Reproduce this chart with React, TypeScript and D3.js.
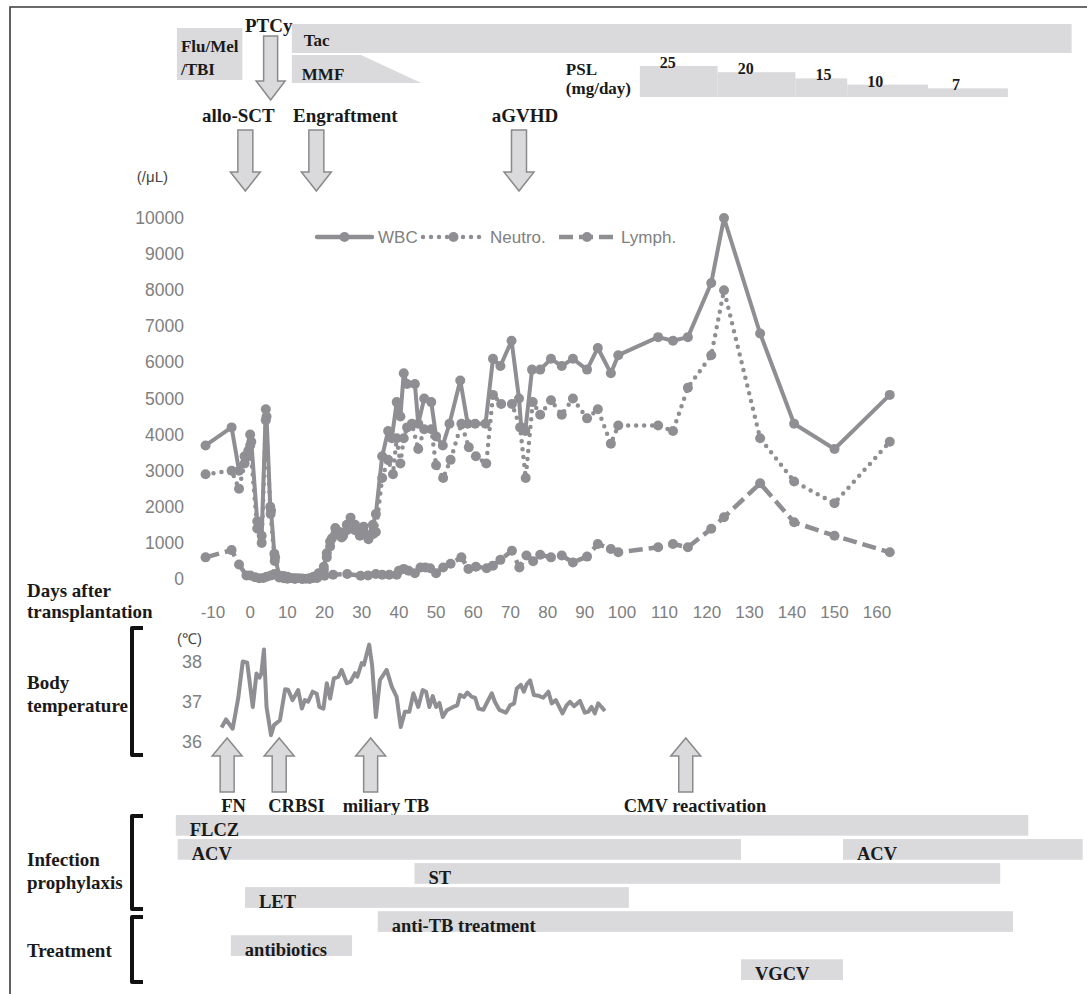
import React from "react";
import * as d3 from "d3";

// days after transplantation, cells /uL
const wbc: [number, number][] = [
  [-12, 3700], [-5, 4200], [-3, 3000], [-1.5, 3400], [-0.5, 3550], [0, 4000], [0.3, 3800],
  [1.9, 1600], [3.1, 1200], [4.2, 4700], [4.4, 4500], [5.4, 2000], [5.6, 1900], [6.5, 700],
  [6.7, 600], [7.8, 100], [9, 80], [10, 60], [11, 30], [12, 20], [13, 20], [14, 10], [15, 10],
  [16, 20], [17, 60], [18.4, 160], [19.8, 340], [20.6, 710], [21.5, 1040], [22, 1130],
  [22.9, 1410], [24, 1300], [25, 1200], [26, 1500], [27, 1700], [28.2, 1500], [29.5, 1300],
  [30.5, 1450], [31.8, 1200], [33, 1500], [33.8, 1800], [35.5, 3400], [37.1, 4100],
  [38.1, 3900], [39.4, 4900], [40.4, 4500], [41.3, 5700], [42.2, 5400], [44.3, 5400],
  [45.2, 4300], [46.8, 5000], [48.7, 4900], [50, 3950], [51.8, 3700], [53.6, 4300],
  [56.5, 5500], [58.5, 4300], [60.5, 4300], [63.3, 4300], [65.3, 6100], [67.3, 5900],
  [70.3, 6600], [72.3, 5000], [72.9, 4200], [74, 4100], [75.8, 5800], [78, 5800],
  [80.9, 6100], [83.8, 5900], [86.8, 6100], [90.6, 5800], [93.5, 6400], [97, 5700],
  [99, 6200], [108.5, 6700], [112, 6600], [115.5, 6700], [121, 8200], [124, 10000],
  [132.5, 6800], [140.5, 4300], [150, 3600], [163, 5100],
];

const neutro: [number, number][] = [
  [-12, 2900], [-5, 3000], [-3, 2500], [-1.5, 3200], [-0.5, 3400], [0, 3700], [1.9, 1400],
  [3.1, 1000], [4.2, 4400], [5.5, 1800], [6.6, 500], [7.8, 40], [9, 20], [10, 10], [12, 10],
  [14, 10], [16, 10], [17, 30], [18.4, 100], [19.8, 250], [20.6, 600], [21.5, 900],
  [22.9, 1250], [24.6, 1150], [26, 1350], [27.1, 1500], [28.2, 1350], [29.5, 1200],
  [30.5, 1300], [31.8, 1100], [33.1, 1250], [33.8, 1300], [35.5, 2800], [37.1, 3300],
  [38.4, 2900], [39.4, 3900], [40.4, 3200], [41.3, 3900], [42.2, 4200], [43.5, 4300],
  [45.2, 3600], [46.8, 4150], [48.7, 4150], [50, 3150], [51.9, 2800], [53.9, 3300],
  [56.8, 4300], [58.8, 3650], [60.7, 3400], [63.5, 3200], [65.3, 5100], [67.5, 4850],
  [70.4, 4850], [72.6, 4200], [74.1, 2800], [76, 4900], [78, 4550], [80.9, 4950],
  [83.8, 4550], [86.8, 5000], [90.6, 4450], [93.5, 4700], [97, 3750], [99, 4250],
  [108.5, 4250], [112, 4100], [115.5, 5300], [121, 6200], [124, 8000], [132.5, 3900],
  [140.5, 2700], [150, 2100], [163, 3800],
];

const lymph: [number, number][] = [
  [-12, 600], [-5, 800], [-3, 400], [-1, 100], [0, 100], [1.3, 50], [2.4, 20], [3.5, 30],
  [4.4, 60], [5.6, 100], [6.5, 140], [7.6, 80], [8.6, 50], [10, 20], [12, 10], [14, 10],
  [16, 10], [18, 30], [20, 90], [22.3, 120], [26.1, 140], [29.7, 90], [31.7, 100],
  [33.8, 140], [35.5, 120], [37.4, 120], [39.4, 120], [40, 230], [41.3, 280], [42.6, 230],
  [44.3, 160], [45.8, 320], [47.1, 320], [48.4, 300], [50, 160], [51.9, 320], [53.9, 420],
  [56.8, 600], [58.7, 280], [60.7, 340], [63.6, 300], [65.3, 370], [67.3, 530], [70.4, 785],
  [72.4, 320], [74.3, 650], [76.1, 490], [78, 670], [80.9, 600], [83.8, 650], [86.8, 460],
  [90.6, 620], [93.5, 970], [97, 830], [99, 740], [108.5, 880], [112, 970], [115.5, 880],
  [121, 1390], [124, 1710], [132.5, 2650], [140.5, 1570], [150, 1200], [163, 740],
];

// body temperature (deg C)
const bodyTemp: [number, number][] = [
  [-7.7, 36.36], [-6.5, 36.56], [-4.7, 36.33], [-3.2, 37.1], [-2, 38.0], [-0.8, 37.97],
  [0.7, 36.87], [1.7, 37.7], [2.5, 37.6], [3, 37.7], [3.7, 38.3], [4.4, 36.87], [5.6, 36.17],
  [6.4, 36.42], [8, 36.54], [9.4, 37.31], [10.2, 37.3], [11.4, 37.04], [12.9, 37.29],
  [13.9, 36.83], [14.7, 37.04], [15.6, 37.0], [16.8, 37.25], [17.9, 37.2], [18.6, 36.87],
  [19.7, 36.83], [20.6, 37.46], [21.5, 37.08], [22.5, 37.58], [23.7, 37.62], [24.6, 37.79],
  [26, 37.46], [27, 37.5], [28.2, 37.71], [28.8, 37.62], [30, 37.96], [30.6, 37.92],
  [32, 38.42], [32.8, 37.9], [33.8, 36.62], [34.9, 37.54], [36.7, 37.79], [38.1, 37.37],
  [39.4, 37.12], [40.5, 36.37], [41.6, 36.75], [42.8, 36.75], [43.9, 37.21], [45.2, 36.87],
  [46.4, 37.29], [47.3, 37.25], [48.2, 36.87], [49.1, 37.14], [50, 36.87], [50.9, 36.97],
  [51.8, 36.62], [52.9, 36.79], [54.6, 36.87], [55.7, 36.91], [56.4, 37.17], [57.5, 37.12],
  [58.4, 37.23], [59.6, 37.12], [60.5, 37.1], [61.4, 36.83], [62.7, 36.8], [63.8, 37.0],
  [65, 37.21], [65.8, 37.0], [67, 36.8], [68.8, 36.73], [69.9, 36.91], [71, 36.96],
  [71.7, 37.33], [72.8, 37.42], [73.6, 37.25], [74.4, 37.44], [75.3, 37.53], [76.3, 37.17],
  [77.5, 37.15], [78.8, 37.1], [80.2, 37.25], [81.1, 36.96], [82.2, 37.04], [84, 36.71],
  [85.1, 36.91], [86, 37.0], [87.1, 36.89], [88.7, 37.02], [90, 36.73], [90.9, 36.75],
  [91.8, 36.87], [92.7, 36.71], [93.6, 36.96], [94.5, 36.87], [95.4, 36.77],
];

const dayTicks = d3.range(-10, 161, 10);
const countTicks = d3.range(0, 10001, 1000);
const tempTicks = [36, 37, 38];

// regimen (days)
const conditioningDays = [-19.7, -2.1];
const tacDays = [11.2, 205.8];
const mmfDays = [11.2, 29.8, 46]; // start, taper begins, end
const ptcyDay = 5.5;
const pslDoses = [25, 20, 15, 10, 7];
const pslStarts = [104.2, 122.5, 140.8, 153, 172];
const pslEnd = 190.8;

const topEvents = ["allo-SCT", "Engraftment", "aGVHD"];
const topEventDays = [-1.3, 17.8, 72.3];
const clinicalEvents = ["FN", "CRBSI", "miliary TB", "CMV reactivation"];
const clinicalEventDays = [-6.2, 7.8, 32.4, 115];

const drugRows = ["FLCZ", "ACV", "ST", "LET", "anti-TB treatment", "antibiotics", "VGCV"];
const drugCourses: [string, number, number][] = [
  ["FLCZ", -20, 195.6],
  ["ACV", -19.5, 128],
  ["ACV", 152, 208.4],
  ["ST", 44.2, 189],
  ["LET", -1.4, 101.6],
  ["anti-TB treatment", 34.3, 192],
  ["antibiotics", -5.2, 27.4],
  ["VGCV", 128, 152],
];

const GREY = "#8f8f93";
const BAR = "#dadadc";
const TICK = "#808080";
const SERIF = "'Liberation Serif', 'Times New Roman', serif";
const SANS = "'Liberation Sans', Arial, sans-serif";

function downArrow(cx: number, top: number, neck: number, tip: number, shaft = 15, head = 30) {
  const s = shaft / 2, h = head / 2;
  return `M${cx - s},${top}H${cx + s}V${neck}H${cx + h}L${cx},${tip}L${cx - h},${neck}H${cx - s}Z`;
}
function upArrow(cx: number, tip: number, neck: number, bottom: number, shaft = 15, head = 30) {
  const s = shaft / 2, h = head / 2;
  return `M${cx - s},${bottom}H${cx + s}V${neck}H${cx + h}L${cx},${tip}L${cx - h},${neck}H${cx - s}Z`;
}

const Bold = ({ x, y, children, anchor = "start", size = 18 }: any) => (
  <text x={x} y={y} textAnchor={anchor} fontFamily={SERIF} fontWeight="bold" fontSize={size} fill="#1a1a1a">
    {children}
  </text>
);

export default function App() {
  const x = d3.scaleLinear().domain([-10, 100, 160]).range([213, 622, 877]);
  const y = d3.scaleLinear().domain([0, 10000]).range([579, 218]);
  const yT = d3.scaleLinear().domain([36, 38]).range([742, 661.5]);
  const row = d3.scaleBand<string>().domain(drugRows).range([815, 980]).paddingInner(0.14);
  const pslH = d3.scaleLinear().domain([0, 25]).range([0, 31]);

  const line = d3.line<[number, number]>().x((d) => x(d[0])).y((d) => y(d[1]));
  const tempLine = d3.line<[number, number]>().x((d) => x(d[0])).y((d) => yT(d[1]));

  const series = [
    { name: "WBC", data: wbc, dash: undefined, cap: "round", lx: 317 },
    { name: "Neutro.", data: neutro, dash: "0 8", cap: "round", lx: 423 },
    { name: "Lymph.", data: lymph, dash: "14 6", cap: "butt", lx: 559 },
  ];
  const legendW = [55, 61, 56];

  const topLabelDx = [-7, 29, 6];
  const eventLabelDx = [-6, -11, -28, -62];

  const mmfPath = `M${x(mmfDays[0])},55H${x(mmfDays[1])}L${x(mmfDays[2])},83H${x(mmfDays[0])}Z`;

  return (
    <div style={{ position: "absolute", left: 0, top: 0 }}>
      <svg width={1087} height={994} style={{ display: "block", background: "#fff" }}>
        {/* frame */}
        <path d="M10,994V7H1087" fill="none" stroke="#3a3a3a" strokeWidth={1.6} />

        {/* conditioning / GVHD prophylaxis */}
        <rect x={x(conditioningDays[0])} y={28} width={x(conditioningDays[1]) - x(conditioningDays[0])} height={52} fill={BAR} />
        <Bold x={x(conditioningDays[0]) + 4} y={52} size={17}>Flu/Mel</Bold>
        <Bold x={x(conditioningDays[0]) + 4} y={75} size={17}>/TBI</Bold>
        <rect x={x(tacDays[0])} y={24} width={x(tacDays[1]) - x(tacDays[0])} height={29} fill={BAR} />
        <Bold x={x(tacDays[0]) + 12} y={46} size={17}>Tac</Bold>
        <path d={mmfPath} fill={BAR} />
        <Bold x={x(mmfDays[0]) + 10} y={80} size={17}>MMF</Bold>
        <Bold x={x(ptcyDay) - 2} y={32} anchor="middle" size={19}>PTCy</Bold>
        <path d={downArrow(x(ptcyDay), 36, 81, 100, 14, 29)} fill={BAR} stroke="#8a8a8a" strokeWidth={1.5} />

        {/* PSL steps */}
        {pslDoses.map((dose, i) => {
          const x0 = x(pslStarts[i]);
          const x1 = x(i < pslDoses.length - 1 ? pslStarts[i + 1] : pslEnd);
          return (
            <g key={"psl" + i}>
              <rect x={x0} y={97 - pslH(dose)} width={x1 - x0} height={pslH(dose)} fill={BAR} />
              <Bold x={x0 + 28} y={97 - pslH(dose) + 2} anchor="middle" size={16}>{dose}</Bold>
            </g>
          );
        })}
        <Bold x={x(pslStarts[0]) - 74} y={75} size={17}>PSL</Bold>
        <Bold x={x(pslStarts[0]) - 74} y={94} size={17}>(mg/day)</Bold>

        {/* event arrows */}
        {topEvents.map((ev, i) => (
          <g key={ev}>
            <Bold x={x(topEventDays[i]) + topLabelDx[i]} y={122} anchor="middle" size={19}>{ev}</Bold>
            <path d={downArrow(x(topEventDays[i]), 130, 172, 191)} fill={BAR} stroke="#8a8a8a" strokeWidth={1.5} />
          </g>
        ))}

        {/* count axis */}
        <text x={168} y={182} textAnchor="end" fontFamily={SANS} fontSize={15} fill="#444">(/μL)</text>
        {countTicks.map((t) => (
          <text key={t} x={184} y={y(t) + 6} textAnchor="end" fontFamily={SANS} fontSize={17.5} fill={TICK}>{t}</text>
        ))}
        {dayTicks.map((t) => (
          <text key={t} x={x(t)} y={618} textAnchor="middle" fontFamily={SANS} fontSize={17} fill={TICK}>{t}</text>
        ))}

        {/* series */}
        {series.map((s) => (
          <g key={s.name}>
            <path d={line(s.data) || ""} fill="none" stroke={GREY} strokeWidth={s.dash ? 4.5 : 4}
              strokeDasharray={s.dash} strokeLinecap={s.cap as any} strokeLinejoin="round" />
            {s.data.map((d, i) => (
              <circle key={i} cx={x(d[0])} cy={y(d[1])} r={5} fill={GREY} />
            ))}
          </g>
        ))}

        {/* legend */}
        {series.map((s, i) => (
          <g key={"lg" + s.name}>
            <line x1={s.lx} x2={s.lx + legendW[i]} y1={237} y2={237} stroke={GREY} strokeWidth={4.5}
              strokeDasharray={s.dash} strokeLinecap={s.cap as any} />
            <circle cx={s.lx + legendW[i] / 2} cy={237} r={5} fill={GREY} />
            <text x={s.lx + legendW[i] + 6} y={243} fontFamily={SANS} fontSize={17} fill={TICK}>{s.name}</text>
          </g>
        ))}

        {/* left headings */}
        <Bold x={27} y={597} size={19}>Days after</Bold>
        <Bold x={27} y={618} size={19}>transplantation</Bold>
        <Bold x={27} y={689} size={19}>Body</Bold>
        <Bold x={27} y={712} size={19}>temperature</Bold>
        <Bold x={27} y={866} size={19}>Infection</Bold>
        <Bold x={27} y={889} size={19}>prophylaxis</Bold>
        <Bold x={27} y={957} size={19}>Treatment</Bold>

        {/* brackets */}
        {[[628, 755], [816, 909], [917, 982]].map(([a, b], i) => (
          <path key={"br" + i} d={`M143,${a}H132V${b}H143`} fill="none" stroke="#111" strokeWidth={4} strokeLinejoin="round" />
        ))}

        {/* body temperature */}
        <text x={202} y={644} textAnchor="end" fontFamily={SANS} fontSize={15} fill="#444">(℃)</text>
        {tempTicks.map((t) => (
          <text key={t} x={202} y={yT(t) + 6} textAnchor="end" fontFamily={SANS} fontSize={18} fill={TICK}>{t}</text>
        ))}
        <path d={tempLine(bodyTemp) || ""} fill="none" stroke={GREY} strokeWidth={4} strokeLinejoin="round" />

        {clinicalEvents.map((ev, i) => (
          <g key={ev}>
            <path d={upArrow(x(clinicalEventDays[i]), 738, 756, 792, 14, 30)} fill={BAR} stroke="#8a8a8a" strokeWidth={1.5} />
            <Bold x={x(clinicalEventDays[i]) + eventLabelDx[i]} y={812} size={18.5}>{ev}</Bold>
          </g>
        ))}

        {/* prophylaxis & treatment courses */}
        {drugCourses.map(([name, s, e], i) => (
          <g key={"dc" + i}>
            <rect x={x(s)} y={row(name)} width={x(e) - x(s)} height={row.bandwidth()} fill={BAR} />
            <Bold x={x(s) + 14} y={(row(name) as number) + row.bandwidth()} size={18.5}>{name}</Bold>
          </g>
        ))}
      </svg>
    </div>
  );
}
